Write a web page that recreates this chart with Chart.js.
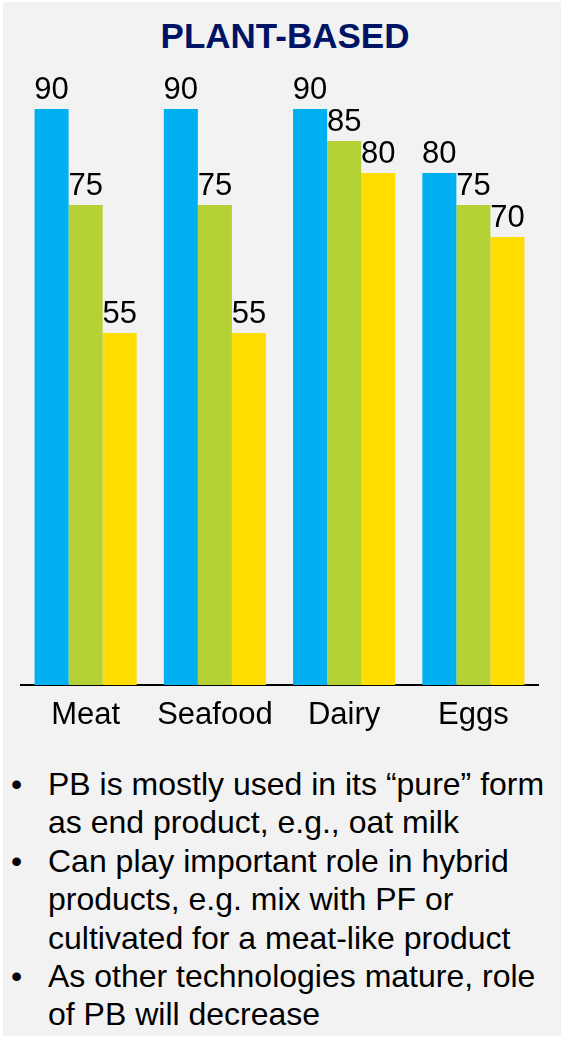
<!DOCTYPE html>
<html>
<head>
<meta charset="utf-8">
<script src="https://cdn.jsdelivr.net/npm/chart.js@4"></script>
<style>
  html, body { margin: 0; padding: 0; background: #ffffff; }
  body { width: 569px; height: 1038px; position: relative; overflow: hidden;
         font-family: "Liberation Sans", Arial, sans-serif; }
  #panel { position: absolute; left: 3px; top: 2px; width: 558px; height: 1034px; background: #f2f2f2; }
  #title { position: absolute; left: 0; top: 15.6px; width: 570px; margin: 0; text-align: center;
           font-size: 35px; line-height: 40px; font-weight: bold; color: #001466; }
  #chartBox { position: absolute; left: 0; top: 0; width: 569px; height: 745px; }
  #notes { position: absolute; left: 0; top: 765px; width: 569px; margin: 0; padding: 0;
           list-style: none; font-size: 32px; line-height: 38.4px; color: #000; }
  #notes li { position: relative; padding-left: 48px; }
  #notes li::before { content: "\2022"; position: absolute; left: 11px; top: 0; }
</style>
</head>
<body>
<div id="panel"></div>
<div id="title">PLANT-BASED</div>
<div id="chartBox"><canvas id="c"></canvas></div>
<ul id="notes">
  <li>PB is mostly used in its “pure” form<br>as end product, e.g., oat milk</li>
  <li>Can play important role in hybrid<br>products, e.g. mix with PF or<br>cultivated for a meat-like product</li>
  <li>As other technologies mature, role<br>of PB will decrease</li>
</ul>
<script>
// Categories and the three series of scores
const categories = ["Meat", "Seafood", "Dairy", "Eggs"];
const seriesA = [90, 90, 90, 80];
const seriesB = [75, 75, 85, 75];
const seriesC = [55, 55, 80, 70];
const seriesColors = ["#00b0f0", "#b4d235", "#ffdd00"];

// Writes each bar's value just above its top
const valueLabels = {
  id: "valueLabels",
  afterDatasetsDraw(chart) {
    const ctx = chart.ctx;
    ctx.save();
    ctx.font = '31px "Liberation Sans", Arial, sans-serif';
    ctx.fillStyle = "#000";
    ctx.textAlign = "center";
    ctx.textBaseline = "alphabetic";
    chart.data.datasets.forEach((ds, i) => {
      chart.getDatasetMeta(i).data.forEach((bar, j) => {
        ctx.fillText(String(ds.data[j]), bar.x, bar.y - 10);
      });
    });
    ctx.restore();
  }
};

new Chart(document.getElementById("c"), {
  type: "bar",
  data: {
    labels: categories,
    datasets: [
      { data: seriesA, backgroundColor: seriesColors[0] },
      { data: seriesB, backgroundColor: seriesColors[1] },
      { data: seriesC, backgroundColor: seriesColors[2] }
    ]
  },
  options: {
    responsive: true,
    maintainAspectRatio: false,
    animation: false,
    events: [],
    layout: { padding: { left: 21, right: 31, top: 64.2, bottom: 0 } },
    datasets: { bar: { categoryPercentage: 0.79, barPercentage: 1.0, borderWidth: 0 } },
    plugins: {
      legend: { display: false },
      tooltip: { enabled: false },
      title: { display: false }
    },
    scales: {
      x: {
        grid: { display: false, drawTicks: false },
        border: { display: true, color: "#000", width: 2 },
        ticks: {
          color: "#000",
          padding: 12,
          font: { family: '"Liberation Sans", Arial, sans-serif', size: 31 }
        },
        afterFit(axis) { axis.height = 60; }
      },
      y: {
        display: false,
        min: 0,
        max: 97
      }
    }
  },
  plugins: [valueLabels]
});
</script>
</body>
</html>
